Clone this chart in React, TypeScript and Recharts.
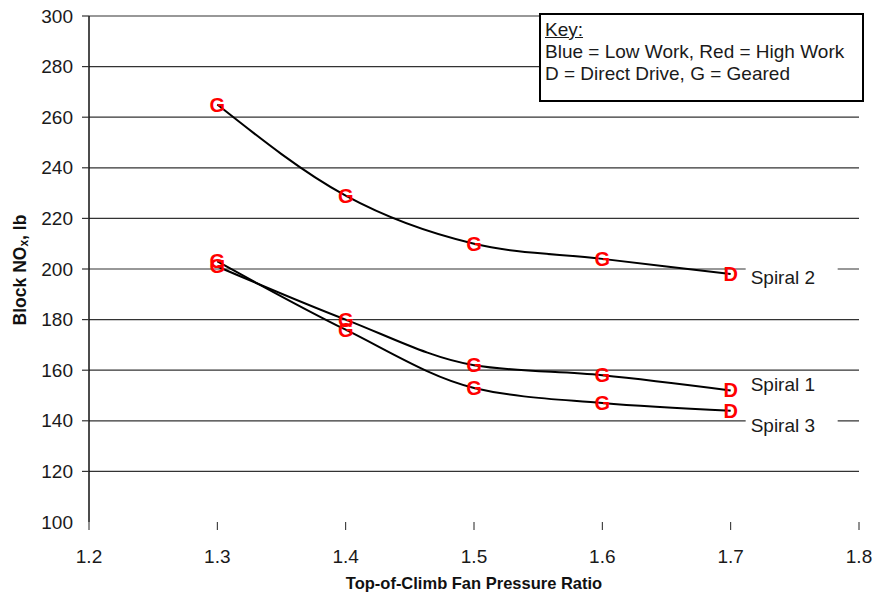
import React from 'react';
import {
  LineChart,
  Line,
  XAxis,
  YAxis,
  ReferenceLine,
  LabelList,
} from 'recharts';

const pressureRatio = [1.3, 1.4, 1.5, 1.6, 1.7];
const spiral1 = [201, 180, 162, 158, 152];
const spiral2 = [265, 229, 210, 204, 198];
const spiral3 = [203, 176, 153, 147, 144];
const markerLetters = ['G', 'G', 'G', 'G', 'D'];
const xTicks = [1.2, 1.3, 1.4, 1.5, 1.6, 1.7, 1.8];
const yTicks = [100, 120, 140, 160, 180, 200, 220, 240, 260, 280, 300];
const gridValues = [120, 140, 160, 180, 200, 220, 240, 260, 280, 300];

const data = pressureRatio.map((x, i) => ({
  x,
  s1: spiral1[i],
  s2: spiral2[i],
  s3: spiral3[i],
  letter: markerLetters[i],
}));

const FONT = '"Liberation Sans", Arial, sans-serif';
const TICK_SIZE = 7;
const TICK_MARGIN = 9;

const LetterDot = (props: any) => {
  const { cx, cy, payload, index } = props;
  if (cx == null || cy == null) return null;
  return (
    <text
      key={index}
      x={cx}
      y={cy}
      textAnchor="middle"
      dominantBaseline="central"
      fill="#ff0000"
      fontSize={20}
      fontWeight="bold"
      fontFamily={FONT}
    >
      {payload.letter}
    </text>
  );
};

const YTick = (props: any) => {
  const { x, y, payload } = props;
  const lx = x + TICK_MARGIN;
  return (
    <g>
      {payload.value !== 100 && (
        <line x1={lx} x2={lx + TICK_SIZE} y1={y} y2={y} stroke="#333" strokeWidth={1.2} />
      )}
      <text x={x} y={y} textAnchor="end" dominantBaseline="central" fill="#1a1a1a" fontSize={19} fontFamily={FONT}>
        {payload.value}
      </text>
    </g>
  );
};

const seriesLabel = (name: string, dy: number) => (props: any) => {
  const { x, y, index } = props;
  if (index !== pressureRatio.length - 1) return null;
  return (
    <g>
      <rect x={x + 15} y={y + dy - 11} width={92} height={21} fill="#fff" />
      <text x={x + 20} y={y + dy} dominantBaseline="central" fill="#1a1a1a" fontSize={19} fontFamily={FONT}>
        {name}
      </text>
    </g>
  );
};

export default function App() {
  return (
    <div style={{ position: 'absolute', left: 0, top: 0, width: 876, height: 603, background: '#fff' }}>
      <LineChart width={876} height={603} data={data} margin={{ top: 16, right: 17, left: 0, bottom: 0 }}>
        {gridValues.map((v) => (
          <ReferenceLine key={v} y={v} stroke="#333" strokeWidth={1.2} />
        ))}
        <XAxis
          dataKey="x"
          type="number"
          domain={[1.2, 1.8]}
          ticks={xTicks}
          tickFormatter={(v: number) => v.toFixed(1)}
          axisLine={false}
          tickLine={{ stroke: '#222' }}
          tickSize={8}
          tickMargin={20}
          height={81}
          tick={{ fill: '#1a1a1a', fontSize: 19, fontFamily: FONT }}
          label={{
            content: (p: any) => {
              const vb = p.viewBox;
              return (
                <text
                  x={vb.x + vb.width / 2}
                  y={vb.y + 61}
                  textAnchor="middle"
                  dominantBaseline="central"
                  fontSize={16.5}
                  fontWeight="bold"
                  fontFamily={FONT}
                  fill="#111"
                >
                  Top-of-Climb Fan Pressure Ratio
                </text>
              );
            },
          }}
        />
        <YAxis
          type="number"
          domain={[100, 300]}
          ticks={yTicks}
          width={89}
          axisLine={{ stroke: '#111', strokeWidth: 1.5 }}
          tickLine={false}
          tickSize={TICK_SIZE}
          tickMargin={TICK_MARGIN}
          tick={<YTick />}
          label={{
            content: () => (
              <text
                x={20}
                y={270}
                transform="rotate(-90, 20, 270)"
                textAnchor="middle"
                dominantBaseline="central"
                fontSize={17.5}
                fontWeight="bold"
                fontFamily={FONT}
                fill="#111"
              >
                Block NO
                <tspan fontSize={12} dy={4}>x</tspan>
                <tspan dy={-4}>, lb</tspan>
              </text>
            ),
          }}
        />
        <Line dataKey="s2" type="monotone" stroke="#000" strokeWidth={2} dot={<LetterDot />} activeDot={false} isAnimationActive={false}>
          <LabelList dataKey="s2" content={seriesLabel('Spiral 2', 3)} />
        </Line>
        <Line dataKey="s1" type="monotone" stroke="#000" strokeWidth={2} dot={<LetterDot />} activeDot={false} isAnimationActive={false}>
          <LabelList dataKey="s1" content={seriesLabel('Spiral 1', -6)} />
        </Line>
        <Line dataKey="s3" type="monotone" stroke="#000" strokeWidth={2} dot={<LetterDot />} activeDot={false} isAnimationActive={false}>
          <LabelList dataKey="s3" content={seriesLabel('Spiral 3', 15)} />
        </Line>
      </LineChart>
      <div
        style={{
          position: 'absolute',
          left: 539,
          top: 13,
          width: 317,
          height: 81,
          border: '2px solid #000',
          background: '#fff',
          fontFamily: FONT,
          fontSize: 19,
          lineHeight: '22px',
          color: '#1a1a1a',
          padding: '4px 0 0 4px',
          boxSizing: 'content-box',
        }}
      >
        <div style={{ textDecoration: 'underline' }}>Key:</div>
        <div>Blue = Low Work, Red = High Work</div>
        <div>D = Direct Drive, G = Geared</div>
      </div>
    </div>
  );
}
